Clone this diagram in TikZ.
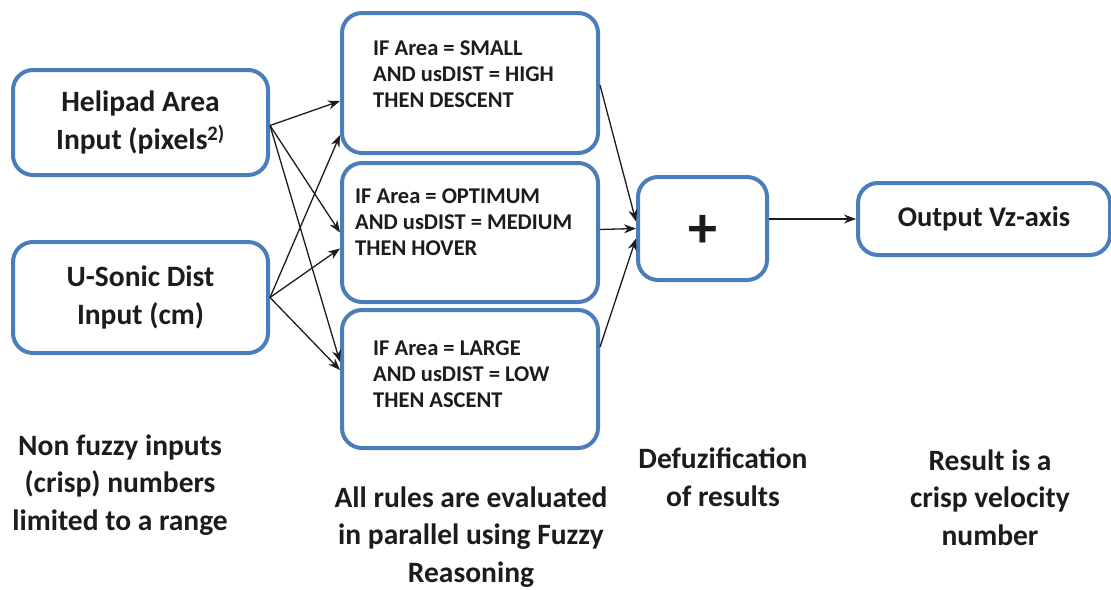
\documentclass[tikz,border=0pt]{standalone}
\usepackage{fontspec}
\setmainfont{Carlito}
\usetikzlibrary{arrows.meta}
\definecolor{boxblue}{RGB}{74,126,187}
\definecolor{ink}{RGB}{28,28,28}
\tikzset{
  blk/.style={draw=boxblue, line width=4pt, rounded corners=20pt, fill=white,
    inner sep=0pt, text=ink, font=\bfseries\fontsize{29.5}{38}\selectfont, align=center},
  ruletext/.style={text=ink, inner sep=0pt, anchor=base west, align=left,
    font=\bfseries\fontsize{22.5}{26}\selectfont},
  arr/.style={draw=ink, line width=1.3pt, -{Stealth[length=12pt,width=9pt]}},
  note/.style={text=ink, inner sep=0pt, anchor=base, align=center,
    font=\bfseries\fontsize{29.5}{37.5}\selectfont}
}
\begin{document}
\begin{tikzpicture}[x=1pt,y=-1pt]
\useasboundingbox (0,0) rectangle (1111,589);

% input blocks
\node[blk, minimum width=255pt, minimum height=105pt] (heli) at (140.5,122.5)
  {Helipad Area\\Input (pixels\textsuperscript{2)}};
\node[blk, minimum width=255pt, minimum height=111pt] (sonic) at (140.5,297.5)
  {U-Sonic Dist\\Input (cm)};

% rule blocks (text placed by the baseline of its last line)
\node[blk, minimum width=256pt, minimum height=140pt] (r1) at (470,83) {};
\node[blk, minimum width=256pt, minimum height=139pt] (r2) at (470,232.5) {};
\node[blk, minimum width=256pt, minimum height=138pt] (r3) at (470,379) {};
\node[ruletext] (t1) at (373,107) {IF Area = SMALL\\AND usDIST = HIGH\\THEN DESCENT};
\node[ruletext] (t2) at (355,255) {IF Area = OPTIMUM\\AND usDIST = MEDIUM\\THEN HOVER};
\node[ruletext] (t3) at (373,407) {IF Area = LARGE\\AND usDIST = LOW\\THEN ASCENT};

% aggregation and output
\node[blk, minimum width=129pt, minimum height=103pt] (plus) at (702.5,228.5) {};
\node[text=ink, inner sep=0pt, font=\bfseries\fontsize{58}{58}\selectfont] (sum) at (703,231) {+};
\node[blk, minimum width=252pt, minimum height=72pt, font=\bfseries\fontsize{28.5}{34}\selectfont] (out) at (984,219) {Output Vz-axis};

% inputs to rules
\draw[arr] ([yshift=-3pt]heli.east) -- ([yshift=-18pt]r1.west);
\draw[arr] ([yshift=-3pt]heli.east) -- (r2.west);
\draw[arr] ([yshift=-3pt]heli.east) -- ([yshift=17pt]r3.west);
\draw[arr] (sonic.east) -- ([yshift=-52pt]r1.west);
\draw[arr] (sonic.east) -- ([yshift=-16pt]r2.west);
\draw[arr] (sonic.east) -- ([yshift=9pt]r3.west);

% rules to aggregation
\draw[arr] ([yshift=-2pt]r1.east) -- ([yshift=7pt]plus.west);
\draw[arr] ([yshift=3pt]r2.east) -- (plus.west);
\draw[arr] ([yshift=32pt]r3.east) -- ([yshift=-10pt]plus.west);

% aggregation to output
\draw[arr] (plus.east |- out.west) -- (out.west);

% captions (placed by the baseline of the last line)
\node[note] (c1) at (120,530) {Non fuzzy inputs\\(crisp) numbers\\limited to a range};
\node[note] (c2) at (471,582) {All rules are evaluated\\in parallel using Fuzzy\\Reasoning};
\node[note] (c3) at (723,506) {Defuzification\\of results};
\node[note] (c4) at (990,545) {Result is a\\crisp velocity\\number};
\end{tikzpicture}
\end{document}
